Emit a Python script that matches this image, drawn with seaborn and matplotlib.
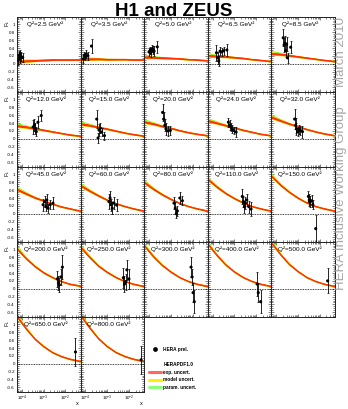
import matplotlib
matplotlib.use("Agg")
import matplotlib.pyplot as plt
from matplotlib.lines import Line2D
from matplotlib.ticker import LogLocator, MultipleLocator, FuncFormatter, NullFormatter
import numpy as np
import pandas as pd
import seaborn as sns

# Q^2 bins (GeV^2), one panel each
q2_values = [2.5, 3.5, 5.0, 6.5, 8.5,
             12.0, 15.0, 20.0, 24.0, 32.0,
             45.0, 60.0, 80.0, 110.0, 150.0,
             200.0, 250.0, 300.0, 400.0, 500.0,
             650.0, 800.0]

# HERAPDF1.0 prediction read at these x values
curve_x = [6.0e-5, 1.58e-4, 3.98e-4, 1.0e-3, 2.51e-3, 6.31e-3, 1.58e-2, 5.0e-2]
curve_fl = [
    [0.05, 0.07, 0.08, 0.09, 0.10, 0.10, 0.10, 0.10],   # 2.5
    [0.12, 0.12, 0.12, 0.11, 0.11, 0.11, 0.10, 0.10],   # 3.5
    [0.17, 0.16, 0.15, 0.14, 0.13, 0.11, 0.10, 0.08],   # 5.0
    [0.21, 0.19, 0.18, 0.16, 0.14, 0.11, 0.09, 0.06],   # 6.5
    [0.26, 0.24, 0.21, 0.18, 0.15, 0.12, 0.09, 0.06],   # 8.5
    [0.33, 0.30, 0.26, 0.22, 0.18, 0.14, 0.10, 0.07],   # 12
    [0.38, 0.34, 0.29, 0.25, 0.20, 0.15, 0.11, 0.07],   # 15
    [0.43, 0.38, 0.32, 0.27, 0.21, 0.16, 0.12, 0.08],   # 20
    [0.46, 0.40, 0.34, 0.28, 0.22, 0.17, 0.12, 0.08],   # 24
    [0.55, 0.46, 0.38, 0.31, 0.24, 0.18, 0.13, 0.08],   # 32
    [0.62, 0.51, 0.41, 0.33, 0.25, 0.18, 0.13, 0.07],   # 45
    [0.72, 0.58, 0.46, 0.35, 0.26, 0.19, 0.13, 0.07],   # 60
    [0.80, 0.63, 0.49, 0.37, 0.27, 0.19, 0.13, 0.07],   # 80
    [0.88, 0.68, 0.52, 0.39, 0.28, 0.19, 0.13, 0.07],   # 110
    [0.96, 0.73, 0.55, 0.40, 0.28, 0.19, 0.13, 0.07],   # 150
    [1.02, 0.77, 0.57, 0.41, 0.29, 0.19, 0.12, 0.07],   # 200
    [1.06, 0.80, 0.58, 0.42, 0.29, 0.19, 0.12, 0.06],   # 250
    [1.10, 0.82, 0.60, 0.43, 0.29, 0.19, 0.12, 0.06],   # 300
    [1.14, 0.85, 0.61, 0.43, 0.29, 0.19, 0.12, 0.06],   # 400
    [1.17, 0.87, 0.62, 0.44, 0.29, 0.19, 0.12, 0.06],   # 500
    [1.20, 0.89, 0.63, 0.44, 0.29, 0.19, 0.12, 0.06],   # 650
    [1.23, 0.91, 0.64, 0.44, 0.29, 0.19, 0.12, 0.06],   # 800
]
exp_unc = [0.030, 0.025, 0.022, 0.020, 0.018, 0.016, 0.016, 0.016]
model_unc = [0.020, 0.012, 0.008, 0.006, 0.005, 0.005, 0.005, 0.005]
param_unc = [0.045, 0.025, 0.012, 0.008, 0.006, 0.005, 0.005, 0.005]

# HERA preliminary F_L measurements
data_x = [
    [7.0e-5, 7.5e-5, 8.0e-5, 8.5e-5, 9.5e-5, 1.1e-4],
    [8.0e-5, 9.0e-5, 1.0e-4, 1.1e-4, 1.3e-4, 1.9e-4],
    [1.0e-4, 1.1e-4, 1.2e-4, 1.35e-4, 1.5e-4, 1.7e-4, 2.4e-4],
    [1.5e-4, 1.7e-4, 1.9e-4, 2.2e-4, 2.6e-4, 3.2e-4, 4.5e-4],
    [2.1e-4, 2.3e-4, 2.5e-4, 2.7e-4, 3.0e-4, 3.3e-4, 4.6e-4],
    [3.3e-4, 3.8e-4, 4.2e-4, 4.6e-4, 5.5e-4, 7.8e-4],
    [3.3e-4, 3.8e-4, 4.2e-4, 4.8e-4, 5.5e-4, 7.5e-4],
    [4.2e-4, 4.7e-4, 5.3e-4, 6.0e-4, 7.5e-4, 9.5e-4],
    [5.3e-4, 6.0e-4, 6.8e-4, 8.0e-4, 9.5e-4, 1.2e-3],
    [7.0e-4, 7.8e-4, 8.5e-4, 9.5e-4, 1.1e-3, 1.3e-3, 1.6e-3],
    [9.5e-4, 1.1e-3, 1.25e-3, 1.4e-3, 1.6e-3, 2.0e-3, 2.7e-3],
    [1.2e-3, 1.35e-3, 1.5e-3, 1.7e-3, 2.0e-3, 2.7e-3],
    [1.4e-3, 1.6e-3, 1.8e-3, 2.0e-3, 2.6e-3, 3.4e-3],
    [2.3e-3, 2.6e-3, 2.9e-3, 3.2e-3, 3.7e-3, 4.6e-3, 5.8e-3],
    [3.0e-3, 3.3e-3, 3.7e-3, 4.2e-3, 4.8e-3, 6.5e-3],
    [4.3e-3, 4.8e-3, 5.3e-3, 6.2e-3, 7.3e-3],
    [5.5e-3, 6.2e-3, 7.0e-3, 8.0e-3, 1.0e-2],
    [8.5e-3, 9.5e-3, 1.05e-2, 1.2e-2],
    [1.1e-2, 1.25e-2, 1.6e-2],
    [2.3e-2],
    [2.9e-2],
    [3.6e-2],
]
data_fl = [
    [0.10, 0.22, 0.15, 0.25, 0.18, 0.16],
    [0.12, 0.22, 0.18, 0.25, 0.20, 0.45],
    [0.30, 0.33, 0.28, 0.38, 0.35, 0.32, 0.43],
    [0.28, 0.15, 0.07, 0.32, 0.30, 0.33, 0.35],
    [0.66, 0.48, 0.52, 0.33, 0.50, 0.15, 0.42],
    [0.30, 0.35, 0.25, 0.18, 0.42, 0.59],
    [0.50, 0.02, 0.22, 0.27, 0.17, 0.08],
    [0.67, 0.50, 0.34, 0.25, 0.20, 0.21],
    [0.42, 0.35, 0.30, 0.24, 0.21, 0.17],
    [0.50, 0.34, 0.25, 0.18, 0.24, 0.21, 0.18],
    [0.23, 0.31, 0.18, 0.35, 0.14, 0.23, 0.27],
    [0.31, 0.40, 0.23, 0.14, 0.27, 0.22],
    [0.27, 0.14, 0.00, 0.07, 0.40, 0.33],
    [0.44, 0.31, 0.18, 0.27, 0.35, 0.18, 0.12],
    [0.44, 0.35, 0.31, 0.33, 0.23, -0.38],
    [0.25, 0.15, 0.10, 0.30, 0.55],
    [0.28, 0.12, 0.18, 0.48, 0.25],
    [0.55, 0.30, -0.10, -0.33],
    [0.12, -0.10, -0.33],
    [0.20],
    [0.30],
    [0.10],
]
data_err = [
    [0.12, 0.10, 0.12, 0.10, 0.11, 0.12],
    [0.10, 0.09, 0.08, 0.10, 0.10, 0.18],
    [0.10, 0.09, 0.10, 0.09, 0.10, 0.12, 0.15],
    [0.20, 0.15, 0.12, 0.10, 0.10, 0.10, 0.15],
    [0.22, 0.18, 0.18, 0.15, 0.18, 0.12, 0.15],
    [0.18, 0.15, 0.14, 0.12, 0.15, 0.15],
    [0.22, 0.12, 0.15, 0.12, 0.10, 0.10],
    [0.22, 0.18, 0.15, 0.15, 0.12, 0.12],
    [0.12, 0.12, 0.10, 0.10, 0.10, 0.12],
    [0.25, 0.20, 0.15, 0.12, 0.12, 0.12, 0.15],
    [0.15, 0.15, 0.12, 0.15, 0.12, 0.12, 0.15],
    [0.20, 0.18, 0.15, 0.15, 0.15, 0.15],
    [0.15, 0.15, 0.12, 0.12, 0.15, 0.12],
    [0.18, 0.15, 0.15, 0.15, 0.15, 0.15, 0.18],
    [0.15, 0.15, 0.15, 0.15, 0.12, 0.35],
    [0.20, 0.18, 0.18, 0.20, 0.30],
    [0.25, 0.20, 0.20, 0.25, 0.25],
    [0.25, 0.20, 0.25, 0.30],
    [0.30, 0.25, 0.30],
    [0.32],
    [0.36],
    [0.36],
]

legend_labels = ["HERA prel.", "", "HERAPDF1.0", "exp. uncert.", "model uncert.", "param. uncert."]

RED, YELLOW, GREEN = "#ff3300", "#ffee00", "#66ff33"

sns.set_theme(style="ticks")
plt.rcParams["font.family"] = ["Liberation Sans", "DejaVu Sans"]
plt.rcParams["mathtext.fontset"] = "custom"
plt.rcParams["mathtext.rm"] = "Liberation Sans"
plt.rcParams["mathtext.it"] = "Liberation Sans:italic"
plt.rcParams["text.color"] = "black"
plt.rcParams["xtick.color"] = "black"
plt.rcParams["ytick.color"] = "black"
plt.rcParams["xtick.labelcolor"] = "black"
plt.rcParams["ytick.labelcolor"] = "black"

W, H = 348, 409
fig = plt.figure(figsize=(W / 100, H / 100), dpi=100)
gs = fig.add_gridspec(5, 5, left=17 / W, right=335 / W, top=1 - 17 / H, bottom=1 - 392 / H,
                      hspace=0, wspace=0)


def ytick_fmt(v, pos):
    s = f"{v:.1f}"
    if s in ("-0.0", "0.0"):
        return "0"
    if s.endswith(".0"):
        s = s[:-2]
    return s


cx = np.array(curve_x)
e = np.array(exp_unc)
m = np.array(model_unc)
p = np.array(param_unc)

for i, q2 in enumerate(q2_values):
    r, c = divmod(i, 5)
    ax = fig.add_subplot(gs[r, c])
    cy = np.array(curve_fl[i])

    ax.fill_between(cx, cy - e, cy + e + p, color=GREEN, lw=0)
    ax.fill_between(cx, cy - e - m, cy + e + m, color=YELLOW, lw=0)
    ax.fill_between(cx, cy - e, cy + e, color=RED, lw=0)
    sns.lineplot(x=cx, y=cy, color=RED, lw=0.8, ax=ax, estimator=None)

    ax.axhline(0, color="black", ls=(0, (1, 1)), lw=0.6)

    ax.errorbar(data_x[i], data_fl[i], yerr=data_err[i], fmt="none",
                ecolor="black", elinewidth=0.6, capsize=0.6, capthick=0.5, zorder=4)
    sns.scatterplot(x=data_x[i], y=data_fl[i], color="black", s=5, edgecolor="none",
                    ax=ax, zorder=5)

    ax.set_xscale("log")
    ax.set_xlim(6.0e-5, 5.0e-2)
    ax.set_ylim(-0.72, 1.19)
    ax.set_xlabel("")
    ax.set_ylabel("")
    ax.yaxis.set_major_locator(MultipleLocator(0.2))
    ax.yaxis.set_minor_locator(MultipleLocator(0.05))
    ax.yaxis.set_major_formatter(FuncFormatter(ytick_fmt))
    ax.xaxis.set_major_locator(LogLocator(base=10))
    ax.xaxis.set_minor_locator(LogLocator(base=10, subs=np.arange(2, 10)))
    ax.xaxis.set_minor_formatter(NullFormatter())
    ax.tick_params(which="both", direction="in", top=True, right=True, width=0.4,
                   labelsize=3.2, pad=1.5, color="#222222")
    ax.tick_params(which="major", length=2.5)
    ax.tick_params(which="minor", length=1.3)
    for sp in ax.spines.values():
        sp.set_linewidth(0.7)
        sp.set_color("#222222")

    ax.tick_params(labelleft=(c == 0), labelbottom=(i >= 20))
    if c == 0:
        ax.text(-0.15, 0.97, "F$_L$", transform=ax.transAxes, rotation=90,
                ha="center", va="top", fontsize=4)
    if i >= 20:
        ax.text(0.97, -0.115, "x", transform=ax.transAxes, ha="right", va="top", fontsize=4)

    ax.text(0.45, 0.91, f"Q²={q2:.1f} GeV²", transform=ax.transAxes,
            ha="center", va="center", fontsize=4.6)

# legend in the empty corner
handles = [
    Line2D([], [], marker="o", color="black", ls="none", markersize=2.4),
    Line2D([], [], color="none"),
    Line2D([], [], color="none"),
    Line2D([], [], color="#ff6a5a", lw=2.2),
    Line2D([], [], color=YELLOW, lw=2.2),
    Line2D([], [], color="#8cff7a", lw=2.2),
]
fig.legend(handles, legend_labels, loc="upper left", bbox_to_anchor=(149 / W, 1 - 347 / H),
           frameon=False, prop={"weight": "bold", "size": 3.4},
           handlelength=2.6, handletextpad=0.4, labelspacing=0.55, borderpad=0,
           borderaxespad=0)

fig.text(0.5, 1 - 15.5 / H, "H1 and ZEUS", ha="center", va="baseline",
         fontsize=13.5, fontweight="bold", color="black")
fig.text(341 / W, 1 - 52 / H, "March 2010", rotation=90, ha="center", va="center",
         fontsize=9.5, color="#a6a6a6")
fig.text(341 / W, 1 - 198 / H, "HERA Inclusive Working Group", rotation=90,
         ha="center", va="center", fontsize=9.5, color="#a6a6a6")

fig.savefig("out.png", dpi=100)
